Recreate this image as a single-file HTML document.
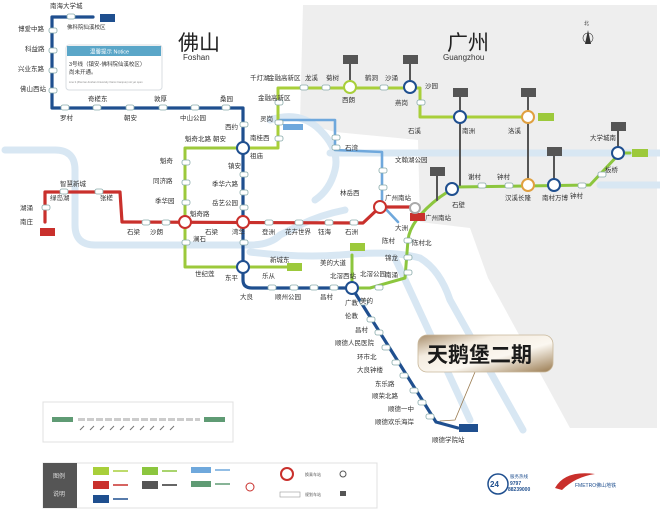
<!DOCTYPE html>
<html><head><meta charset="utf-8"><style>
html,body{margin:0;padding:0;background:#fff;width:660px;height:521px;overflow:hidden}
svg{display:block;font-family:"Liberation Sans","Noto Sans CJK SC",sans-serif}
.s{font-size:6.5px;fill:#333}
.e{font-size:2.6px;fill:#888}
</style></head><body>
<svg width="660" height="521" viewBox="0 0 660 521" xmlns="http://www.w3.org/2000/svg">
<defs>
<linearGradient id="gold" x1="0" y1="0" x2="1" y2="1">
<stop offset="0" stop-color="#a98f6d"/><stop offset="0.3" stop-color="#f4ece0"/><stop offset="0.6" stop-color="#fbf7f0"/><stop offset="1" stop-color="#9a7b50"/>
</linearGradient>
</defs>
<rect width="660" height="521" fill="#fff"/>
<!-- gray Guangzhou area -->
<path d="M303,5 L657,5 L657,428 L570,428 L488,278 L470,228 L420,222 L418,140 L335,132 L300,122 Z" fill="#eeeeee"/>
<!-- rivers -->
<g fill="none" stroke="#d8e7f3" stroke-width="7" stroke-linecap="round">
<path d="M5,150 L55,150 Q75,150 75,170 L75,225 Q75,245 95,245 L250,245 Q270,245 280,235 L300,225 Q320,215 345,210"/>
<path d="M330,153 L660,153"/>
<path d="M270,120 Q300,110 320,130 Q340,150 335,170 Q330,190 315,200"/>
<path d="M250,252 Q300,258 340,255 Q390,250 420,258 Q440,270 450,300 L523,430"/>
<path d="M395,258 L470,420"/>
<path d="M600,185 L660,185"/>
</g>
<!-- lines -->
<g fill="none" stroke-linejoin="round" stroke-linecap="round">
<!-- line 3 dark blue -->
<path d="M93,17 L52,17 L52,108 L243,108 L243,280 Q243,288 252,288 L352,288 L436,422 L458,428" stroke="#1f4f8f" stroke-width="3.2"/>
<!-- line 2 red -->
<path d="M45,222 L45,192 L120,192 L122,222 L363,223 L380,207 L416,207" stroke="#c9302c" stroke-width="3.2"/>
<!-- Guangfo green loop -->
<path d="M243,148 L185,148 L185,267 L243,267 L287,267" stroke="#9cc93b" stroke-width="3"/>
<path d="M243,148 L278,148 L278,88 L420,88 L420,117 L530,117" stroke="#a8cf3a" stroke-width="3"/>
<!-- line 7 green -->
<path d="M352,255 L352,288 L370,288 L405,278 L408,240 Q410,220 440,197 L455,187 L590,185 L620,153 L630,153" stroke="#8cc63e" stroke-width="3"/>
<!-- light blue -->
<path d="M280,120 L335,120 L335,150 L382,152 L382,205 L398,222" stroke="#6fa8dc" stroke-width="2.6"/>
<!-- gray connectors -->
<g stroke="#555" stroke-width="2">
<path d="M350,60 L350,87"/><path d="M410,60 L410,87"/>
<path d="M460,92 L460,185"/><path d="M528,92 L528,185"/>
<path d="M554,150 L554,185"/><path d="M618,125 L618,152"/>
<path d="M437,170 L437,200"/>
</g>
<path d="M475,372 L455,420 L440,421" stroke="#9a7b50" stroke-width="0.8"/>
</g>
<!-- tags -->
<g fill="#555">
<rect x="343" y="55" width="15" height="9"/><rect x="403" y="55" width="15" height="9"/>
<rect x="453" y="88" width="15" height="9"/><rect x="521" y="88" width="15" height="9"/>
<rect x="547" y="147" width="15" height="9"/><rect x="611" y="122" width="15" height="9"/>
<rect x="430" y="167" width="15" height="9"/>
</g>
<rect x="538" y="113" width="16" height="8" fill="#9cc93b"/>
<rect x="632" y="149" width="16" height="8" fill="#9cc93b"/>
<rect x="287" y="263" width="15" height="8" fill="#9cc93b"/>
<rect x="350" y="243" width="15" height="8" fill="#9cc93b"/>
<rect x="100" y="14" width="15" height="8" fill="#1f4f8f"/>
<rect x="459" y="424" width="19" height="8" fill="#1f4f8f"/>
<rect x="40" y="228" width="15" height="8" fill="#c9302c"/>
<rect x="410" y="213" width="15" height="8" fill="#c9302c"/>
<rect x="283" y="124" width="20" height="6" fill="#6fa8dc"/>
<!-- interchange circles -->
<g fill="#fff" stroke-width="2">
<circle cx="243" cy="148" r="6" stroke="#1f4f8f"/><circle cx="185" cy="222" r="6" stroke="#c9302c"/>
<circle cx="243" cy="222" r="6" stroke="#c9302c"/><circle cx="243" cy="267" r="6" stroke="#1f4f8f"/>
<circle cx="352" cy="288" r="6" stroke="#1f4f8f"/><circle cx="380" cy="207" r="6" stroke="#c9302c"/>
<circle cx="350" cy="87" r="6" stroke="#a8cf3a"/><circle cx="410" cy="87" r="6" stroke="#1f4f8f"/>
<circle cx="460" cy="117" r="6" stroke="#1f4f8f"/><circle cx="528" cy="117" r="6" stroke="#e0a040"/>
<circle cx="528" cy="185" r="6" stroke="#e0a040"/><circle cx="554" cy="185" r="6" stroke="#1f4f8f"/>
<circle cx="618" cy="153" r="6" stroke="#1f4f8f"/><circle cx="452" cy="189" r="6" stroke="#1f4f8f"/>
<circle cx="415" cy="208" r="5" stroke="#aaa"/>
</g>
<!-- regular stations -->
<g fill="#fff" stroke="#8aa" stroke-width="0.8">
<rect x="67" y="14" width="8" height="5" rx="2"/><rect x="49" y="28" width="8" height="5" rx="2"/><rect x="49" y="48" width="8" height="5" rx="2"/><rect x="49" y="68" width="8" height="5" rx="2"/><rect x="49" y="88" width="8" height="5" rx="2"/>
<rect x="61" y="105" width="8" height="5" rx="2"/><rect x="93" y="105" width="8" height="5" rx="2"/><rect x="126" y="105" width="8" height="5" rx="2"/><rect x="159" y="105" width="8" height="5" rx="2"/><rect x="191" y="105" width="8" height="5" rx="2"/><rect x="222" y="105" width="8" height="5" rx="2"/>
<rect x="240" y="122" width="8" height="5" rx="2"/><rect x="240" y="172" width="8" height="5" rx="2"/><rect x="240" y="190" width="8" height="5" rx="2"/><rect x="240" y="205" width="8" height="5" rx="2"/><rect x="240" y="240" width="8" height="5" rx="2"/>
<rect x="182" y="160" width="8" height="5" rx="2"/><rect x="182" y="180" width="8" height="5" rx="2"/><rect x="182" y="200" width="8" height="5" rx="2"/><rect x="182" y="240" width="8" height="5" rx="2"/>
<rect x="142" y="220" width="8" height="5" rx="2"/><rect x="162" y="220" width="8" height="5" rx="2"/><rect x="265" y="220" width="8" height="5" rx="2"/><rect x="295" y="220" width="8" height="5" rx="2"/><rect x="325" y="220" width="8" height="5" rx="2"/><rect x="350" y="220" width="8" height="5" rx="2"/>
<rect x="60" y="189" width="8" height="5" rx="2"/><rect x="95" y="189" width="8" height="5" rx="2"/><rect x="42" y="205" width="8" height="5" rx="2"/>
<rect x="275" y="100" width="8" height="5" rx="2"/><rect x="275" y="120" width="8" height="5" rx="2"/><rect x="275" y="136" width="8" height="5" rx="2"/><rect x="300" y="85" width="8" height="5" rx="2"/><rect x="322" y="85" width="8" height="5" rx="2"/><rect x="380" y="85" width="8" height="5" rx="2"/><rect x="417" y="100" width="8" height="5" rx="2"/>
<rect x="268" y="285" width="8" height="5" rx="2"/><rect x="290" y="285" width="8" height="5" rx="2"/><rect x="310" y="285" width="8" height="5" rx="2"/><rect x="330" y="285" width="8" height="5" rx="2"/>
<rect x="360" y="300" width="8" height="5" rx="2"/><rect x="367" y="317" width="8" height="5" rx="2"/><rect x="375" y="330" width="8" height="5" rx="2"/><rect x="382" y="345" width="8" height="5" rx="2"/><rect x="392" y="360" width="8" height="5" rx="2"/><rect x="400" y="373" width="8" height="5" rx="2"/><rect x="410" y="388" width="8" height="5" rx="2"/><rect x="418" y="400" width="8" height="5" rx="2"/><rect x="426" y="414" width="8" height="5" rx="2"/>
<rect x="404" y="238" width="8" height="5" rx="2"/><rect x="404" y="255" width="8" height="5" rx="2"/><rect x="404" y="270" width="8" height="5" rx="2"/><rect x="375" y="285" width="8" height="5" rx="2"/>
<rect x="478" y="183" width="8" height="5" rx="2"/><rect x="505" y="183" width="8" height="5" rx="2"/><rect x="578" y="183" width="8" height="5" rx="2"/><rect x="598" y="172" width="8" height="5" rx="2"/>
<rect x="332" y="135" width="8" height="5" rx="2"/><rect x="332" y="145" width="8" height="5" rx="2"/><rect x="379" y="168" width="8" height="5" rx="2"/><rect x="379" y="185" width="8" height="5" rx="2"/>
</g>
<!-- city labels -->
<text x="178" y="50" font-size="21" fill="#222">佛山</text>
<text x="183" y="60" font-size="8" fill="#333">Foshan</text>
<text x="447" y="50" font-size="21" fill="#222">广州</text>
<text x="443" y="60" font-size="8" fill="#333">Guangzhou</text>
<text x="584" y="25" font-size="5" fill="#333">北</text>
<path d="M588,30 L585,44 L591,44 Z" fill="#333"/><circle cx="588" cy="38" r="5" fill="none" stroke="#333" stroke-width="0.6"/>
<!-- notice box -->
<rect x="66" y="45" width="96" height="45" rx="3" fill="#fff" stroke="#d8dde2"/>
<rect x="67" y="46" width="94" height="10" fill="#5aa6c8"/>
<text x="90" y="53.5" font-size="5.5" fill="#fff">温馨提示 Notice</text>
<text x="69" y="66" font-size="5.5" fill="#333">3号线（镇安-佛科院仙溪校区）</text>
<text x="69" y="74" font-size="5.5" fill="#333">尚未开通。</text>
<text x="69" y="83" class="e">Line 3 (Zhen'an-Foshan University Xianxi Campus) not yet open</text>
<!-- station labels -->
<g class="s">
<text x="50" y="8">南海大学城</text><text x="67" y="29" font-size="5.5">佛科院仙溪校区</text>
<text x="18" y="31">博爱中路</text><text x="25" y="51">科益路</text><text x="18" y="71">兴业东路</text><text x="20" y="91">佛山西站</text>
<text x="60" y="120">罗村</text><text x="88" y="101">奇槎东</text><text x="124" y="120">朝安</text><text x="154" y="101">敦厚</text><text x="180" y="120">中山公园</text><text x="220" y="101">桑园</text>
<text x="225" y="129">西约</text><text x="250" y="158">祖庙</text><text x="228" y="168">镇安</text><text x="212" y="186">季华六路</text><text x="212" y="205">岳艺公园</text>
<text x="185" y="141">魁奇北路</text><text x="213" y="141">朝安</text><text x="160" y="163">魁奇</text><text x="153" y="183">同济路</text><text x="155" y="203">季华园</text>
<text x="190" y="216">魁奇路</text><text x="193" y="241">澜石</text><text x="127" y="234">石梁</text><text x="150" y="234">沙朗</text><text x="205" y="234">石梁</text><text x="232" y="234">湾华</text>
<text x="262" y="234">登洲</text><text x="285" y="234">花卉世界</text><text x="318" y="234">钰海</text><text x="345" y="234">石洲</text>
<text x="60" y="186">智慧新城</text><text x="50" y="200">绿岛湖</text><text x="100" y="200">张槎</text><text x="20" y="210">湖涌</text><text x="20" y="224">南庄</text>
<text x="250" y="80">千灯湖</text><text x="258" y="100">金融高新区</text><text x="260" y="121">灵岗</text><text x="250" y="140">南桂西</text>
<text x="268" y="80">金融高新区</text><text x="305" y="80">龙溪</text><text x="326" y="80">菊树</text><text x="342" y="102">西朗</text><text x="365" y="80">鹤洞</text><text x="385" y="80">沙涌</text><text x="425" y="88">沙园</text>
<text x="395" y="105">燕岗</text><text x="408" y="133">石溪</text><text x="462" y="133">南洲</text><text x="508" y="133">洛溪</text>
<text x="590" y="140">大学城南</text><text x="605" y="172">板桥</text><text x="570" y="198">钟村</text><text x="468" y="179">谢村</text><text x="497" y="179">钟村</text>
<text x="505" y="200">汉溪长隆</text><text x="542" y="200">南村万博</text><text x="452" y="207">石壁</text>
<text x="425" y="220">广州南站</text><text x="395" y="230">大洲</text><text x="412" y="245">陈村北</text><text x="382" y="243">陈村</text><text x="385" y="260">锦龙</text><text x="385" y="277">南涌</text>
<text x="320" y="265">美的大道</text><text x="360" y="276">北滘公园</text><text x="360" y="303">美的</text><text x="330" y="278">北滘西站</text>
<text x="270" y="262">新城东</text><text x="195" y="276">世纪莲</text><text x="225" y="280">东平</text><text x="262" y="278">乐从</text><text x="240" y="299">大良</text><text x="275" y="299">顺州公园</text><text x="320" y="299">昌村</text>
<text x="345" y="305">广教</text><text x="345" y="318">伦教</text><text x="355" y="332">昌村</text><text x="335" y="345">顺德人民医院</text><text x="357" y="359">环市北</text><text x="357" y="372">大良钟楼</text><text x="375" y="386">东乐路</text><text x="372" y="398">顺荣北路</text><text x="388" y="411">顺德一中</text><text x="375" y="424">顺德欢乐海岸</text><text x="432" y="442">顺德学院站</text>
<text x="340" y="195">林岳西</text><text x="385" y="200">广州南站</text><text x="345" y="150">石湾</text><text x="395" y="162">文翰湖公园</text>
</g>
<!-- callout -->
<rect x="418" y="335" width="135" height="37" rx="9" fill="url(#gold)" stroke="#c8b79a" stroke-width="0.8"/>
<text x="427" y="362" font-size="21" font-weight="bold" fill="#1a1a1a" font-family="Liberation Sans,'Noto Sans CJK SC',sans-serif">天鹅堡二期</text>
<!-- legend 1 -->
<rect x="43" y="402" width="190" height="40" fill="#fff" stroke="#e0e0e0"/>
<rect x="52" y="417" width="21" height="5" fill="#5f9b74"/><rect x="204" y="417" width="21" height="5" fill="#5f9b74"/>
<path d="M78,419.5 L200,419.5" stroke="#ccc" stroke-width="3" stroke-dasharray="7 2"/>
<g stroke="#777" stroke-width="1"><path d="M80,430 L84,426 M90,430 L94,426 M100,430 L104,426 M110,430 L114,426 M120,430 L124,426 M130,430 L134,426 M140,430 L144,426 M150,430 L154,426 M160,430 L164,426 M170,430 L174,426"/></g>
<!-- legend 2 -->
<rect x="43" y="463" width="334" height="45" fill="#fff" stroke="#e0e0e0"/>
<rect x="43" y="463" width="34" height="45" fill="#555"/>
<text x="53" y="478" font-size="6" fill="#ddd">图例</text><text x="53" y="496" font-size="6" fill="#ddd">说明</text>
<rect x="93" y="467" width="16" height="8" fill="#a8cf3a"/><rect x="93" y="481" width="16" height="8" fill="#c9302c"/><rect x="93" y="495" width="16" height="8" fill="#1f4f8f"/>
<rect x="142" y="467" width="16" height="8" fill="#8cc63e"/><rect x="142" y="481" width="16" height="8" fill="#555"/>
<rect x="191" y="467" width="20" height="6" fill="#6fa8dc"/><rect x="191" y="481" width="20" height="6" fill="#5f9b74"/>
<g stroke-width="1.5"><path d="M113,471 L128,471" stroke="#a8cf3a"/><path d="M113,485 L128,485" stroke="#c9302c"/><path d="M113,499 L128,499" stroke="#1f4f8f"/><path d="M162,471 L177,471" stroke="#8cc63e"/><path d="M162,485 L177,485" stroke="#333"/><path d="M215,470 L230,470" stroke="#6fa8dc"/><path d="M215,484 L230,484" stroke="#5f9b74"/></g>
<circle cx="287" cy="474" r="6" fill="#fff" stroke="#c9302c" stroke-width="2"/><circle cx="250" cy="487" r="4" fill="#fff" stroke="#c9302c"/>
<rect x="280" y="492" width="20" height="5" fill="#fff" stroke="#999" stroke-width="0.6"/>
<text x="305" y="476" font-size="4" fill="#555">换乘车站</text><text x="305" y="496" font-size="4" fill="#555">规划车站</text>
<circle cx="343" cy="474" r="3" fill="none" stroke="#555"/><rect x="340" y="491" width="6" height="5" fill="#555"/>
<!-- logos -->
<circle cx="498" cy="484" r="10" fill="none" stroke="#1f4f8f" stroke-width="1.5"/>
<text x="490" y="487" font-size="8" font-weight="bold" fill="#1f4f8f">24</text>
<text x="510" y="478" font-size="4.5" fill="#1f4f8f">服务热线</text>
<text x="510" y="485" font-size="5" font-weight="bold" fill="#1f4f8f">9797</text>
<text x="508" y="491" font-size="5" font-weight="bold" fill="#1f4f8f">88239000</text>
<path d="M555,488 Q565,470 595,474 Q575,477 562,490 Z" fill="#c9302c"/>
<text x="575" y="487" font-size="5" fill="#1f4f8f">FMETRO佛山地铁</text>
</svg>
</body></html>
